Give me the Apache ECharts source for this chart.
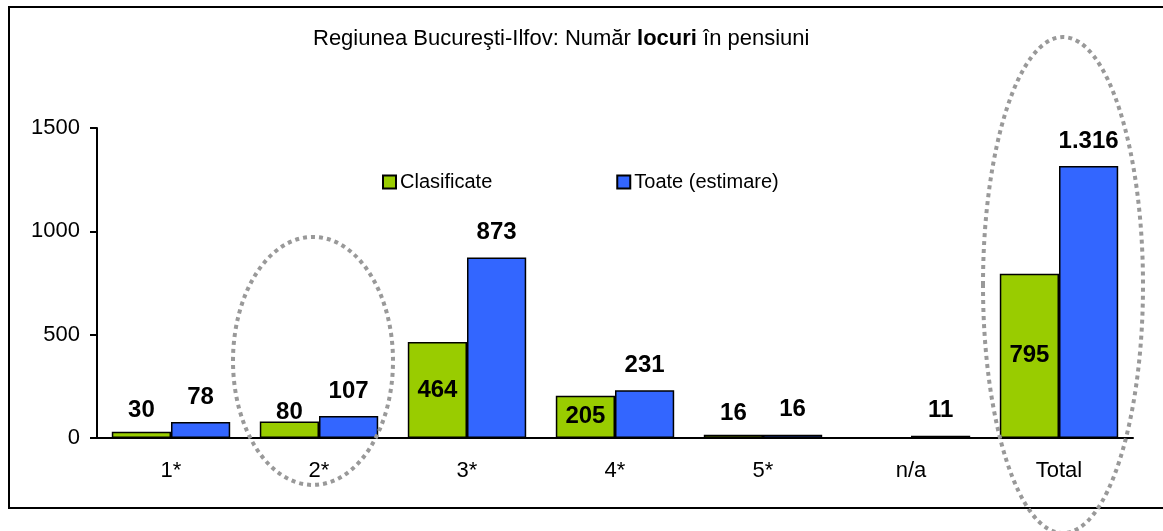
<!DOCTYPE html>
<html>
<head>
<meta charset="utf-8">
<script src="https://cdn.jsdelivr.net/npm/echarts@6/dist/echarts.min.js"></script>
<style>
  html, body { margin: 0; padding: 0; background: #fff; }
  #chart-container { width: 1163px; height: 531px; }
</style>
</head>
<body>
<div id="chart-container"></div>
<script>
// date din grafic
const categories = ['1*', '2*', '3*', '4*', '5*', 'n/a', 'Total'];
const clasificate = [30, 80, 464, 205, 16, 0, 795];
const toate = [78, 107, 873, 231, 16, 11, 1316];
const yTicks = [0, 500, 1000, 1500];
const highlighted = ['2*', 'Total'];

const FONT = '"Liberation Sans", Arial, sans-serif';

// format cu punct pentru mii (1.316)
function fmt(v) {
  return String(v).replace(/\B(?=(\d{3})+(?!\d))/g, '.');
}

const chart = echarts.init(document.getElementById('chart-container'));

// etichetele verzi: in interior pentru barele mari, deasupra pentru cele mici
const greenData = clasificate.map(v => {
  if (v === 0) return { value: v, label: { show: false } };
  if (v >= 200) return { value: v, label: { position: 'inside' } };
  return { value: v, label: { distance: v > 50 ? -3 : 9 } };
});

const option = {
  animation: false,
  textStyle: { fontFamily: FONT },
  title: {
    text: 'Regiunea Bucureşti-Ilfov: Număr {b|locuri} în pensiuni',
    left: 313,
    top: 28,
    padding: 0,
    textStyle: {
      fontFamily: FONT,
      fontSize: 22,
      fontWeight: 'normal',
      color: '#000',
      rich: { b: { fontFamily: FONT, fontSize: 22, fontWeight: 'bold', color: '#000' } }
    }
  },
  legend: {
    left: 382,
    top: 172,
    padding: 0,
    itemWidth: 13,
    itemHeight: 13,
    itemGap: 124,
    icon: 'rect',
    textStyle: { fontFamily: FONT, fontSize: 20, color: '#000', padding: [0, 0, 0, -1] },
    data: ['Clasificate', 'Toate (estimare)']
  },
  grid: { left: 97, right: 30, top: 128, bottom: 93 },
  xAxis: {
    type: 'category',
    data: categories,
    axisLine: { lineStyle: { color: '#000', width: 2 } },
    axisTick: { length: 7, lineStyle: { color: '#000', width: 2 } },
    axisLabel: { fontFamily: FONT, fontSize: 22, color: '#000', margin: 22 }
  },
  yAxis: {
    type: 'value',
    min: yTicks[0],
    max: yTicks[yTicks.length - 1],
    interval: yTicks[1] - yTicks[0],
    axisLine: { show: true, lineStyle: { color: '#000', width: 2 } },
    axisTick: { show: true, length: 7, lineStyle: { color: '#000', width: 2 } },
    axisLabel: {
      fontFamily: FONT, fontSize: 22, color: '#000', margin: 17,
      formatter: v => String(v)
    },
    splitLine: { show: false }
  },
  series: [
    {
      name: 'Clasificate',
      type: 'bar',
      data: greenData,
      barGap: '0%',
      barCategoryGap: '20%',
      itemStyle: { color: '#99CC00', borderColor: '#000', borderWidth: 1.5 },
      label: {
        show: true,
        position: 'top',
        distance: 9,
        fontFamily: FONT,
        fontSize: 24,
        fontWeight: 'bold',
        color: '#000',
        formatter: p => fmt(p.value)
      }
    },
    {
      name: 'Toate (estimare)',
      type: 'bar',
      data: toate,
      barGap: '0%',
      barCategoryGap: '20%',
      itemStyle: { color: '#3366FF', borderColor: '#000', borderWidth: 1.5 },
      label: {
        show: true,
        position: 'top',
        distance: 13,
        fontFamily: FONT,
        fontSize: 24,
        fontWeight: 'bold',
        color: '#000',
        formatter: p => fmt(p.value)
      }
    }
  ]
};

chart.setOption(option);

// elipse punctate + chenar
function drawAnnotations() {
  const elements = [{
    type: 'rect',
    shape: { x: 9, y: 7, width: 1170, height: 501 },
    style: { fill: 'none', stroke: '#000', lineWidth: 2 },
    z: 0
  }];
  const sizes = {
    '2*': { v: 373, dx: -6, rx: 80, ry: 124 },
    'Total': { v: 740, dx: 4, rx: 80, ry: 248 }
  };
  highlighted.forEach(cat => {
    const s = sizes[cat];
    const c = chart.convertToPixel({ gridIndex: 0 }, [cat, s.v]);
    elements.push({
      type: 'ellipse',
      shape: { cx: c[0] + s.dx, cy: c[1], rx: s.rx, ry: s.ry },
      style: { fill: 'none', stroke: '#999', lineWidth: 4, lineDash: [4, 4] },
      z: 100
    });
  });
  chart.setOption({ graphic: elements });
}
drawAnnotations();

window.addEventListener('resize', () => chart.resize());
</script>
</body>
</html>
